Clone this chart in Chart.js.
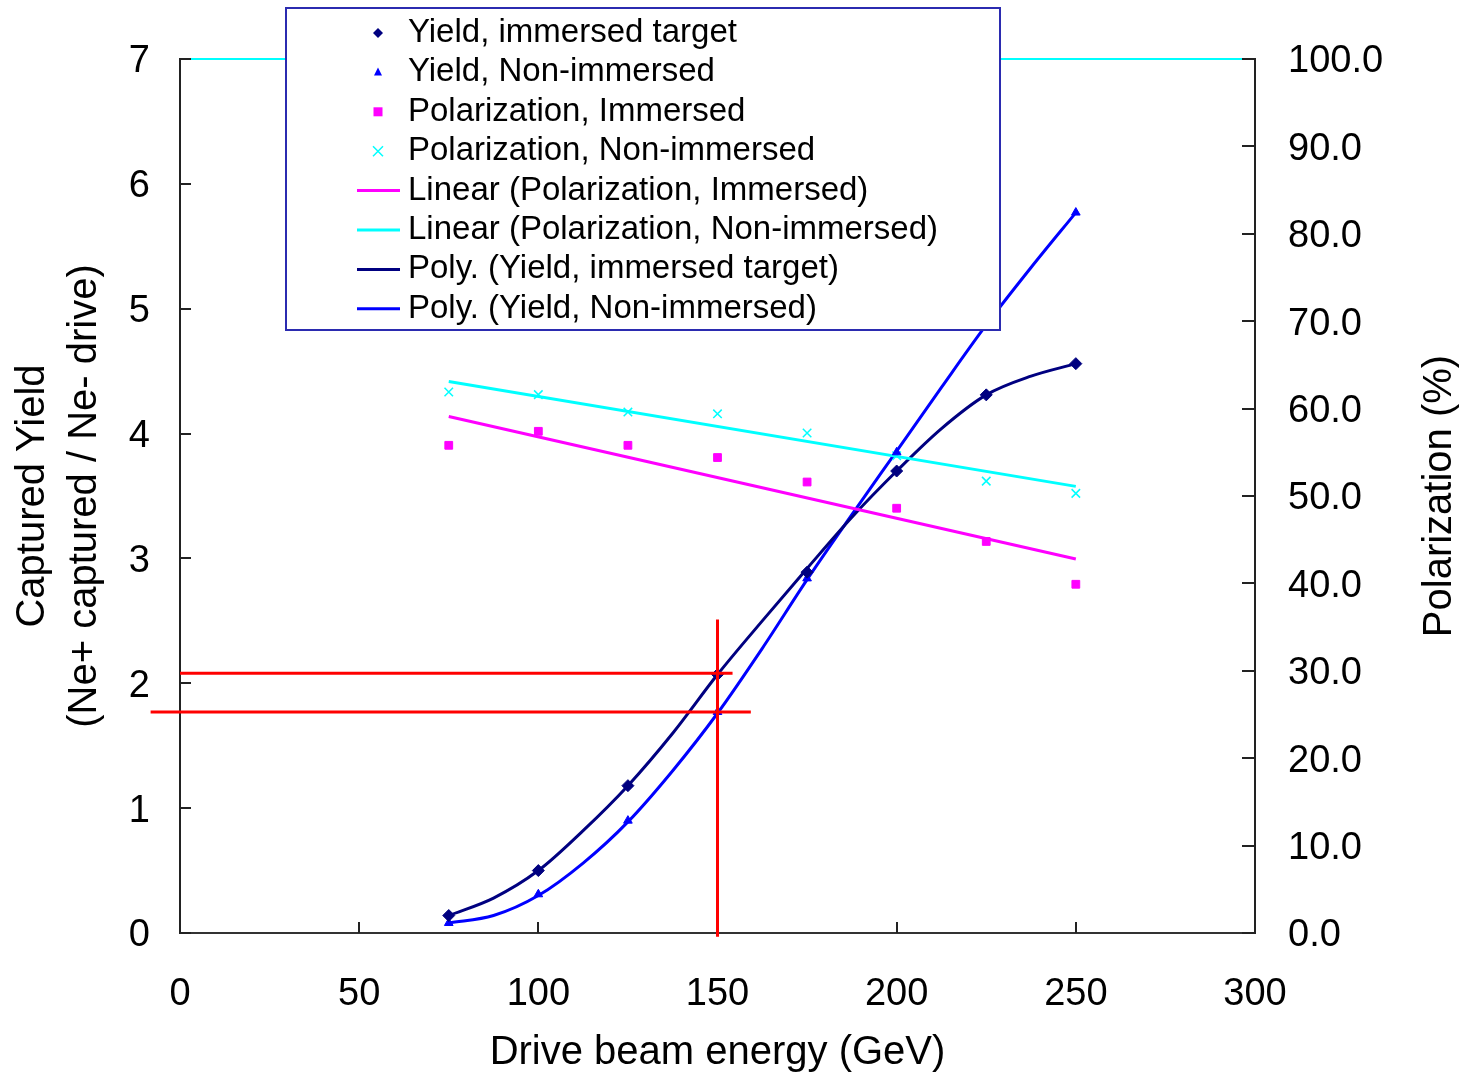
<!DOCTYPE html>
<html>
<head>
<meta charset="utf-8">
<title>Captured yield and polarization</title>
<script src="https://cdn.jsdelivr.net/npm/chart.js@4.4.1/dist/chart.umd.min.js"></script>
<style>
  html, body { margin: 0; padding: 0; background: #fff; }
  #wrap { position: relative; width: 1464px; height: 1072px; }
</style>
</head>
<body>
<div id="wrap"><canvas id="yield-chart"></canvas></div>
<script>
// Captured yield / polarization vs drive beam energy

const energies = [75, 100, 125, 150, 175, 200, 225, 250];
const yieldImmersed = [0.14, 0.50, 1.18, 2.07, 2.89, 3.70, 4.31, 4.56];
const yieldNonImmersed = [0.08, 0.31, 0.90, 1.77, 2.84, 3.85, 4.87, 5.77];
const polImmersed = [55.8, 57.4, 55.8, 54.4, 51.6, 48.6, 44.8, 39.9];
const polNonImmersed = [61.9, 61.6, 59.6, 59.4, 57.2, 54.6, 51.7, 50.3];

// trend lines (linear fits on polarization, polynomial fits on yield)
const linearX = [75, 250];
const linearImmersed = [59.1, 42.8];
const linearNonImmersed = [63.1, 51.1];

const polyX = [75, 87.5, 100, 112.5, 125, 137.5, 150, 162.5, 175, 187.5, 200, 212.5, 225, 237.5, 250];
const polyImmersed = [0.14, 0.28, 0.50, 0.82, 1.18, 1.60, 2.07, 2.50, 2.92, 3.33, 3.70, 4.04, 4.31, 4.46, 4.56];
const polyNonImmersed = [0.08, 0.14, 0.30, 0.56, 0.89, 1.30, 1.76, 2.28, 2.83, 3.35, 3.86, 4.37, 4.87, 5.33, 5.77];

// guide lines marking the 150 GeV working point
const guideVertX = [150, 150];
const guideVertY = [2.51, -0.03];
const guideUpperX = [0, 154.2];
const guideUpperY = [2.08, 2.08];
const guideLowerX = [-8.2, 159.3];
const guideLowerY = [1.77, 1.77];

const xRange = [0, 300, 50];
const yieldRange = [0, 7, 1];
const polRange = [0, 100, 10];

const FONT = '"Liberation Sans", Arial, sans-serif';
const NAVY = '#000080', BLUE = '#0000FF', MAGENTA = '#FF00FF', CYAN = '#00FFFF', RED = '#FF0000';

const pts = (xs, ys) => xs.map((x, i) => ({ x, y: ys[i] }));

const guide = (xs, ys) => ({
    label: '', data: pts(xs, ys), yAxisID: 'y', showLine: true,
    borderColor: RED, borderWidth: 3, pointRadius: 0, clip: false, legend: false
});

const datasets = [
    guide(guideVertX, guideVertY),
    guide(guideUpperX, guideUpperY),
    guide(guideLowerX, guideLowerY),
    {
        label: 'Yield, immersed target', data: pts(energies, yieldImmersed), yAxisID: 'y',
        pointStyle: 'rectRot', pointRadius: 6, backgroundColor: NAVY, borderColor: NAVY, borderWidth: 1
    },
    {
        label: 'Yield, Non-immersed', data: pts(energies, yieldNonImmersed), yAxisID: 'y',
        pointStyle: 'triangle', pointRadius: 5, backgroundColor: BLUE, borderColor: BLUE, borderWidth: 1
    },
    {
        label: 'Polarization, Immersed', data: pts(energies, polImmersed), yAxisID: 'y1',
        pointStyle: 'rect', pointRadius: 5.5, backgroundColor: MAGENTA, borderColor: MAGENTA, borderWidth: 1
    },
    {
        label: 'Polarization, Non-immersed', data: pts(energies, polNonImmersed), yAxisID: 'y1',
        pointStyle: 'crossRot', pointRadius: 6, backgroundColor: CYAN, borderColor: CYAN, borderWidth: 1.5
    },
    {
        label: 'Linear (Polarization, Immersed)', data: pts(linearX, linearImmersed), yAxisID: 'y1',
        showLine: true, borderColor: MAGENTA, borderWidth: 3, pointRadius: 0
    },
    {
        label: 'Linear (Polarization, Non-immersed)', data: pts(linearX, linearNonImmersed), yAxisID: 'y1',
        showLine: true, borderColor: CYAN, borderWidth: 3, pointRadius: 0
    },
    {
        label: 'Poly. (Yield, immersed target)', data: pts(polyX, polyImmersed), yAxisID: 'y',
        showLine: true, borderColor: NAVY, borderWidth: 3, pointRadius: 0, cubicInterpolationMode: 'monotone'
    },
    {
        label: 'Poly. (Yield, Non-immersed)', data: pts(polyX, polyNonImmersed), yAxisID: 'y',
        showLine: true, borderColor: BLUE, borderWidth: 3, pointRadius: 0, cubicInterpolationMode: 'monotone'
    }
];

// small marker shapes, shared by the legend
function drawMarker(ctx, style, x, y, r, color) {
    ctx.save();
    ctx.fillStyle = color;
    ctx.strokeStyle = color;
    ctx.lineWidth = 1.5;
    ctx.beginPath();
    if (style === 'rectRot') {
        ctx.moveTo(x, y - r); ctx.lineTo(x + r, y); ctx.lineTo(x, y + r); ctx.lineTo(x - r, y);
        ctx.closePath(); ctx.fill();
    } else if (style === 'triangle') {
        ctx.moveTo(x, y - r); ctx.lineTo(x + r * 0.8, y + r * 0.6); ctx.lineTo(x - r * 0.8, y + r * 0.6);
        ctx.closePath(); ctx.fill();
    } else if (style === 'rect') {
        ctx.fillRect(x - r, y - r, 2 * r, 2 * r);
    } else if (style === 'crossRot') {
        ctx.moveTo(x - r, y - r); ctx.lineTo(x + r, y + r);
        ctx.moveTo(x + r, y - r); ctx.lineTo(x - r, y + r);
        ctx.stroke();
    }
    ctx.restore();
}

const frameAndTicks = {
    id: 'frameAndTicks',
    beforeDatasetsDraw(chart) {
        const { ctx, chartArea: a, scales } = chart;
        ctx.save();
        ctx.lineWidth = 2;
        ctx.strokeStyle = CYAN;
        ctx.beginPath();
        ctx.moveTo(a.left, a.top); ctx.lineTo(a.right, a.top);
        ctx.stroke();

        ctx.strokeStyle = '#222';
        ctx.beginPath();
        scales.x.ticks.forEach(t => {
            const px = Math.round(scales.x.getPixelForValue(t.value));
            ctx.moveTo(px, a.bottom); ctx.lineTo(px, a.bottom - 11);
        });
        scales.y.ticks.forEach(t => {
            const py = Math.round(scales.y.getPixelForValue(t.value));
            ctx.moveTo(a.left, py); ctx.lineTo(a.left + 11, py);
        });
        scales.y1.ticks.forEach(t => {
            const py = Math.round(scales.y1.getPixelForValue(t.value));
            ctx.moveTo(a.right, py); ctx.lineTo(a.right - 13, py);
        });
        ctx.stroke();
        ctx.restore();
    },
    afterDraw(chart) {
        // right-hand axis title reads bottom to top
        const { ctx, chartArea: a } = chart;
        ctx.save();
        ctx.translate(1440, (a.top + a.bottom) / 2);
        ctx.rotate(-Math.PI / 2);
        ctx.font = `40px ${FONT}`;
        ctx.fillStyle = '#000';
        ctx.textAlign = 'center';
        ctx.textBaseline = 'middle';
        ctx.fillText('Polarization (%)', 0, 0);
        ctx.restore();
    }
};

const boxedLegend = {
    id: 'boxedLegend',
    afterDraw(chart) {
        const { ctx } = chart;
        const box = { left: 286, top: 8, right: 1000, bottom: 330 };
        const rowTop = 33, rowStep = 39.4;
        ctx.save();
        ctx.fillStyle = '#fff';
        ctx.fillRect(box.left, box.top, box.right - box.left, box.bottom - box.top);
        ctx.strokeStyle = '#2b2bb0';
        ctx.lineWidth = 2;
        ctx.strokeRect(box.left, box.top, box.right - box.left, box.bottom - box.top);

        ctx.font = `33px ${FONT}`;
        ctx.textBaseline = 'middle';
        ctx.textAlign = 'left';
        chart.data.datasets.filter(ds => ds.legend !== false).forEach((ds, i) => {
            const y = rowTop + i * rowStep;
            if (ds.showLine) {
                ctx.strokeStyle = ds.borderColor;
                ctx.lineWidth = 3;
                ctx.beginPath();
                ctx.moveTo(357, y); ctx.lineTo(400, y);
                ctx.stroke();
            } else {
                const r = ds.pointStyle === 'rect' ? 4.5 : 5;
                drawMarker(ctx, ds.pointStyle, 378, y, r, ds.borderColor);
            }
            ctx.fillStyle = '#000';
            ctx.fillText(ds.label, 408, y);
        });
        ctx.restore();
    }
};

const tickFont = { family: FONT, size: 38 };

new Chart(document.getElementById('yield-chart'), {
    type: 'scatter',
    data: { datasets },
    options: {
        responsive: true,
        maintainAspectRatio: false,
        animation: false,
        layout: { padding: { top: 59, left: 0, right: 0, bottom: 0 } },
        plugins: { legend: { display: false }, tooltip: { enabled: false } },
        scales: {
            x: {
                type: 'linear', min: xRange[0], max: xRange[1],
                ticks: { stepSize: xRange[2], color: '#000', font: tickFont, padding: 39 },
                grid: { display: true, drawOnChartArea: false, drawTicks: false },
                border: { color: '#333', width: 2 },
                title: {
                    display: true, text: 'Drive beam energy (GeV)', color: '#000',
                    font: { family: FONT, size: 40, lineHeight: 0.95 }, padding: 0
                },
                afterFit: s => { s.height = 139; }
            },
            y: {
                position: 'left', min: yieldRange[0], max: yieldRange[1],
                ticks: { stepSize: yieldRange[2], color: '#000', font: tickFont, padding: 30, labelOffset: 3 },
                grid: { display: true, drawOnChartArea: false, drawTicks: false },
                border: { color: '#222', width: 2 },
                title: {
                    display: true, text: ['Captured Yield', '(Ne+ captured / Ne- drive)'], color: '#000',
                    font: { family: FONT, size: 40, lineHeight: 1.3 }, padding: { top: 7 }
                },
                afterFit: s => { s.width = 180; }
            },
            y1: {
                position: 'right', min: polRange[0], max: polRange[1],
                ticks: {
                    stepSize: polRange[2], color: '#000', font: tickFont, padding: 33, labelOffset: 3,
                    callback: v => v.toFixed(1)
                },
                grid: { display: true, drawOnChartArea: false, drawTicks: false },
                border: { color: '#222', width: 2 },
                afterFit: s => { s.width = 209; }
            }
        }
    },
    plugins: [frameAndTicks, boxedLegend]
});
</script>
</body>
</html>
